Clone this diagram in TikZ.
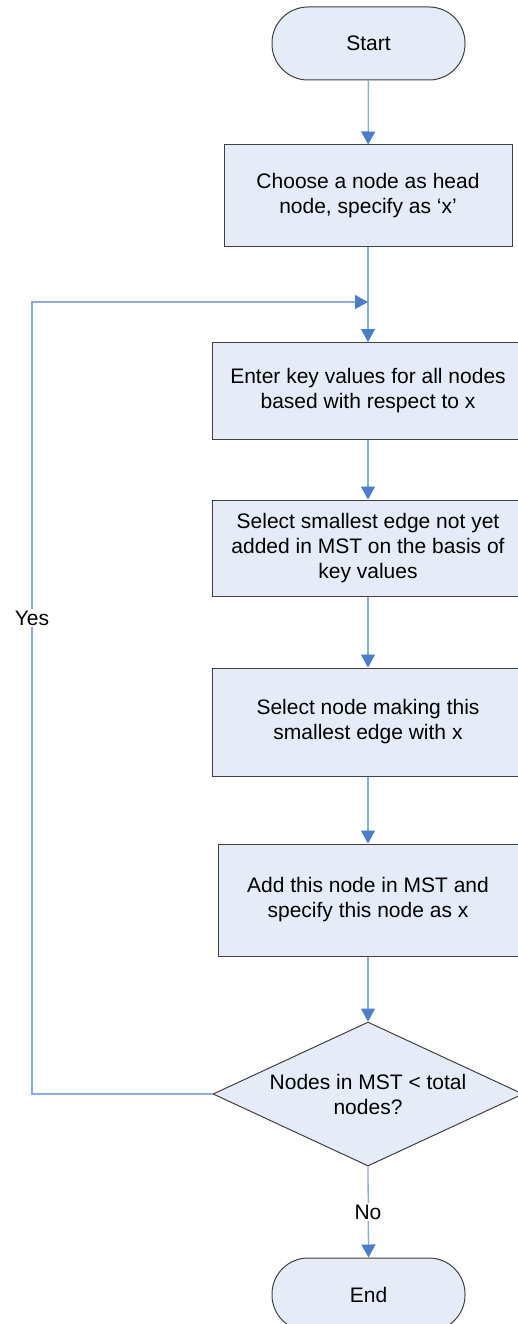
\documentclass[tikz,border=0pt]{standalone}
\usepackage{fontspec}
\setmainfont{Liberation Sans}
\usetikzlibrary{arrows.meta,shapes.geometric}

\definecolor{boxfill}{RGB}{230,236,247}
\definecolor{boxline}{RGB}{64,64,64}
\definecolor{flowline}{RGB}{140,171,216}
\definecolor{flowtip}{RGB}{74,126,199}

\tikzset{
  every node/.style={font=\fontsize{21}{25}\selectfont},
  terminal/.style={draw=boxline, line width=1pt, fill=boxfill,
    rectangle, rounded corners=36pt, minimum width=193pt, minimum height=73pt,
    inner sep=0pt},
  process/.style={draw=boxline, line width=1pt, fill=boxfill,
    rectangle, inner sep=0pt, align=center},
  decision/.style={draw=boxline, line width=1pt, fill=boxfill,
    diamond, inner sep=0pt, minimum width=310pt, minimum height=144pt},
  flow/.style={draw=flowline, line width=1.3pt,
    -{Triangle[length=13pt, width=14pt, flowtip]}},
  edgelabel/.style={fill=white, inner sep=2pt}
}

\begin{document}
\begin{tikzpicture}[x=1pt, y=-1pt]
  \clip (0,0) rectangle (518,1324);
  \fill[white] (0,0) rectangle (518,1324);

  % flowchart blocks
  \node[terminal] (start) at (368.5,43.5) {Start};
  \node[process, minimum width=288pt, minimum height=102pt] (b1) at (368,196)
    {Choose a node as head\\node, specify as ‘x’};
  \node[process, minimum width=312pt, minimum height=97pt] (b2) at (368,391)
    {Enter key values for all nodes\\based with respect to x};
  \node[process, minimum width=312pt, minimum height=96pt] (b3) at (368,548)
    {Select smallest edge not yet\\added in MST on the basis of\\key values};
  \node[process, minimum width=312pt, minimum height=108pt] (b4) at (368,722)
    {Select node making this\\smallest edge with x};
  \node[process, minimum width=300pt, minimum height=112pt] (b5) at (368,900)
    {Add this node in MST and\\specify this node as x};
  \node[decision] (dec) at (368,1094) {};
  \node[align=center] (dectext) at (dec.center) {Nodes in MST < total\\nodes?};
  \node[terminal] (end) at (368.5,1294.5) {End};

  % loop-back junction points
  \coordinate (join) at (368,302);
  \coordinate (loopcorner) at (32,302);

  % main flow
  \draw[flow] (start) -- (b1);
  \draw[flow] (b1) -- (b2);
  \draw[flow] (b2) -- (b3);
  \draw[flow] (b3) -- (b4);
  \draw[flow] (b4) -- (b5);
  \draw[flow] (b5) -- (dec);

  % "Yes" branch back to the top of the loop
  \draw[flow] (dec.west) -| (loopcorner) -- (join);
  \node[edgelabel] (yes) at (32,618) {Yes};

  % "No" branch to the end
  \draw[flow] (dec.south) -- (end.north);
  \node[edgelabel] (no) at (368,1212) {No};
\end{tikzpicture}
\end{document}
